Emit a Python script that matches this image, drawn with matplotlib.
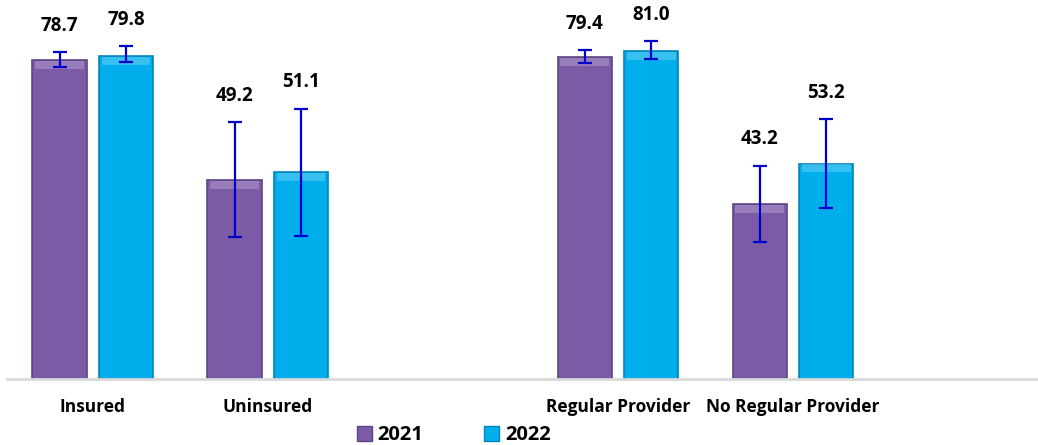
import matplotlib.pyplot as plt
import numpy as np
from matplotlib.patches import Patch

# data
categories = ['Insured', 'Uninsured', 'Regular Provider', 'No Regular Provider']
cat_pos = [0, 1, 3, 4]
years = ['2021', '2022']
values_2021 = [78.7, 49.2, 79.4, 43.2]
values_2022 = [79.8, 51.1, 81.0, 53.2]
ci_low_2021 = [77.0, 35.1, 78.0, 33.9]
ci_high_2021 = [80.7, 63.4, 81.2, 52.7]
ci_low_2022 = [78.2, 35.4, 79.0, 42.3]
ci_high_2022 = [82.2, 66.8, 83.4, 64.1]

purple = '#7B5AA6'
cyan = '#00AEEB'
err_color = '#0000CC'

plt.rcParams['font.family'] = ['Open Sans', 'DejaVu Sans']

fig = plt.figure(figsize=(10.38, 4.45), dpi=100)
ax = fig.add_axes([7 / 1038, 1 - 379 / 445, 1 - 7 / 1038, 379 / 445])

x = np.array(cat_pos, dtype=float)
offset = 0.19
width = 0.31

series = [
    (values_2021, ci_low_2021, ci_high_2021, purple, '#5E4485', -offset),
    (values_2022, ci_low_2022, ci_high_2022, cyan, '#0086B8', offset),
]

for vals, lo, hi, col, edge, dx in series:
    vals = np.array(vals)
    lo = np.array(lo)
    hi = np.array(hi)
    ax.bar(x + dx, vals, width, color=col, edgecolor=edge, linewidth=1.2, zorder=2)
    # lighter bevel at the top of each bar
    ax.bar(x + dx, np.full(len(vals), 2.0), width * 0.9, bottom=vals - 2.2,
           color='white', alpha=0.22, linewidth=0, zorder=3)
    ax.errorbar(x + dx, vals, yerr=[vals - lo, hi - vals], fmt='none',
                ecolor=err_color, elinewidth=1.6, capsize=5, capthick=1.6, zorder=4)
    for xi, h, v in zip(x + dx, hi, vals):
        ax.annotate(f'{v:.1f}', (xi, h), xytext=(0, 19), textcoords='offset points',
                    ha='center', va='center', fontsize=13.5, fontweight='bold')

ax.set_xlim(-0.49, 5.4)
ax.set_ylim(0, 93.6)
ax.set_xticks(cat_pos)
ax.set_xticklabels(categories, fontsize=12.5, fontweight='bold')
ax.tick_params(axis='x', length=0, pad=14)
ax.set_yticks([])
for s in ['top', 'right', 'left']:
    ax.spines[s].set_visible(False)
ax.spines['bottom'].set_color('#D9D9D9')
ax.spines['bottom'].set_linewidth(2)

handles = [Patch(facecolor=purple, edgecolor='#5E4485'),
           Patch(facecolor=cyan, edgecolor='#0086B8')]
leg = fig.legend(handles, years, loc='center', bbox_to_anchor=(0.437, 0.022), ncol=2,
                 frameon=False, handlelength=0.75, handleheight=0.75, handletextpad=0.3,
                 columnspacing=3.0, prop={'size': 14.5, 'weight': 'bold'})

fig.savefig('out.png', dpi=100)
